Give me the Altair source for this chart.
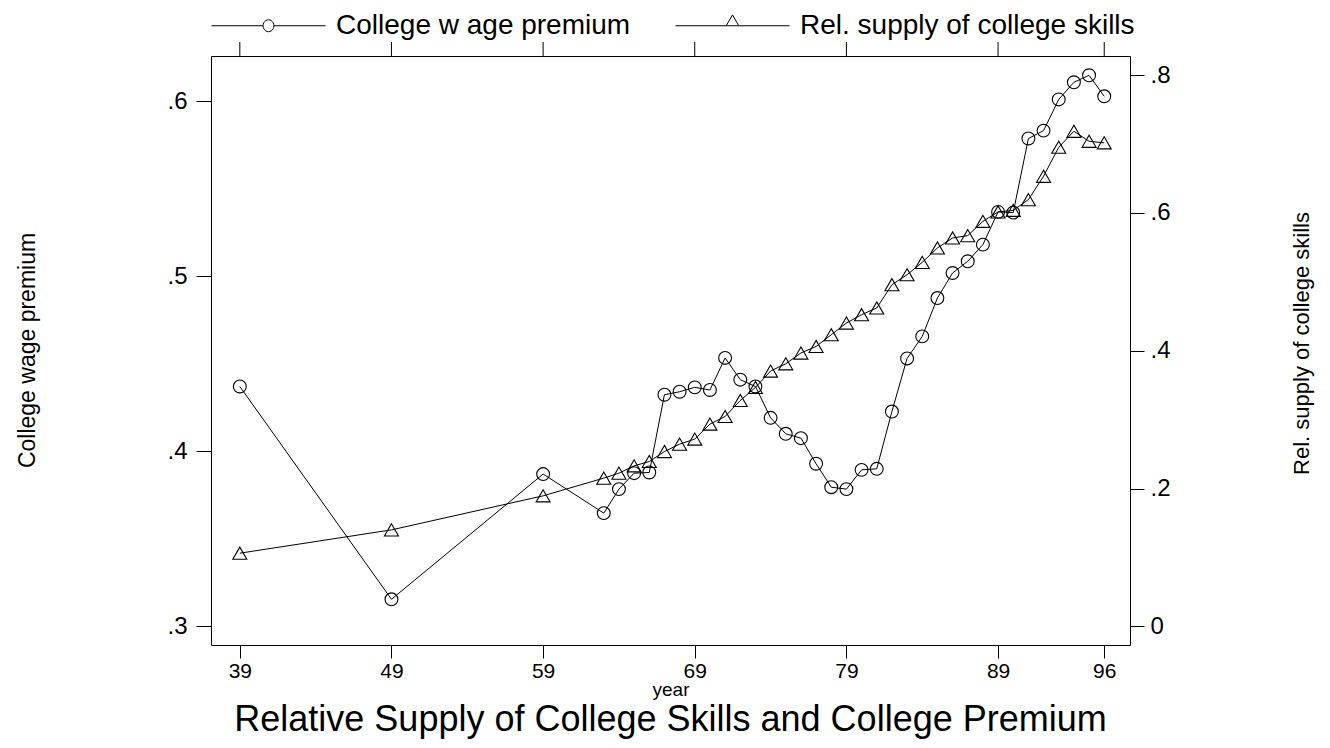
import math
import altair as alt
import pandas as pd

# ---------------- data ----------------
years = [39, 49, 59, 63, 64, 65, 66, 67, 68, 69, 70, 71, 72, 73, 74, 75, 76, 77,
         78, 79, 80, 81, 82, 83, 84, 85, 86, 87, 88, 89, 90, 91, 92, 93, 94, 95, 96]
wage_premium = [0.437, 0.3155, 0.387, 0.3647, 0.3784, 0.3875, 0.3879, 0.4323, 0.434,
                0.4365, 0.435, 0.4533, 0.4409, 0.437, 0.4191, 0.410, 0.4075, 0.3929,
                0.3795, 0.3784, 0.3894, 0.390, 0.4227, 0.453, 0.4656, 0.4875, 0.5018,
                0.5085, 0.518, 0.5367, 0.5363, 0.5786, 0.5831, 0.6009, 0.6107, 0.6147,
                0.6027]
rel_supply = [0.1063, 0.1401, 0.1895, 0.2152, 0.2224, 0.233, 0.2393, 0.2538, 0.2645,
              0.2718, 0.2936, 0.3046, 0.3278, 0.3467, 0.3705, 0.3811, 0.3967, 0.4062,
              0.4232, 0.4402, 0.4523, 0.462, 0.4958, 0.5103, 0.5282, 0.5491, 0.5636,
              0.567, 0.5877, 0.6014, 0.6037, 0.6192, 0.6531, 0.6952, 0.7184, 0.7039,
              0.7016]
x_ticks = [39, 49, 59, 69, 79, 89, 96]
left_ticks = [0.3, 0.4, 0.5, 0.6]
right_ticks = [0, 0.2, 0.4, 0.6, 0.8]
legend_labels = ["College w age premium", "Rel. supply of college skills"]

df = pd.DataFrame({"year": years, "premium": wage_premium, "supply": rel_supply})
ticks_df = pd.DataFrame({"year": x_ticks})
legend_df = pd.DataFrame({"series": legend_labels})

# ---------------- style ----------------
FONT = "Liberation Sans, Arial, Helvetica, sans-serif"
W, H = 919, 589


def ring(r, n=24):
    pts = [(r * math.cos(2 * math.pi * k / n), r * 1.1 * math.sin(2 * math.pi * k / n))
           for k in range(n)]
    return "M" + "L".join(f"{x:.4f},{y:.4f}" for x, y in pts) + "Z"


cr = 0.095
legend_circle = f"M-1,0L{-cr:.4f},0M{cr:.4f},0L1,0" + ring(cr)
tw = 0.11
legend_triangle = (f"M-1,0L{-tw:.4f},0M{tw:.4f},0L1,0"
                   f"M0,-0.19L{tw:.4f},0L{-tw:.4f},0Z")

label_expr = ("datum.value == 0 ? '0' : replace(format(datum.value, '.1f'), '0.', '.')")

xscale = alt.Scale(domain=[37.1, 97.7], nice=False, zero=False)
xaxis = alt.Axis(values=x_ticks, title="year", format="d", grid=False, domain=False,
                 tickSize=13, tickColor="black", labelPadding=2,
                 labelFontSize=21, labelFont=FONT, labelColor="black",
                 titleFontSize=19, titleFont=FONT, titleFontWeight="normal",
                 titleColor="black", titlePadding=-1)

left_scale = alt.Scale(domain=[0.2894, 0.6257], nice=False, zero=False)
left_axis = alt.Axis(values=left_ticks, labelExpr=label_expr, orient="left", grid=False,
                     domain=False, tickSize=15, tickColor="black", labelPadding=9,
                     labelFontSize=24, labelFont=FONT, labelColor="black",
                     title="College wage premium", titleFontSize=23, titleFont=FONT,
                     titleFontWeight="normal", titleColor="black", titleAngle=270,
                     titleBaseline="middle", titleX=-184, titleY=294)

right_scale = alt.Scale(domain=[-0.0269, 0.8276], nice=False, zero=False)
right_axis = alt.Axis(values=right_ticks, labelExpr=label_expr, orient="right",
                      grid=False, domain=False, tickSize=14, tickColor="black",
                      labelPadding=6, labelFontSize=24, labelFont=FONT,
                      labelColor="black", title="Rel. supply of college skills",
                      titleFontSize=22, titleFont=FONT, titleFontWeight="normal",
                      titleColor="black", titleAngle=270, titleBaseline="middle",
                      titleX=171, titleY=287)

base = alt.Chart(df)
X = alt.X("year:Q", scale=xscale, axis=xaxis)

prem = alt.layer(
    base.mark_line(color="black", strokeWidth=1).encode(
        x=X, y=alt.Y("premium:Q", scale=left_scale, axis=left_axis)),
    base.mark_point(shape="circle", filled=False, color="black", size=165,
                    strokeWidth=1.1, opacity=1).encode(
        x=X, y=alt.Y("premium:Q", scale=left_scale, axis=left_axis)),
)

supp = alt.layer(
    base.mark_line(color="black", strokeWidth=1).encode(
        x=X, y=alt.Y("supply:Q", scale=right_scale, axis=right_axis)),
    base.mark_point(shape="triangle-up", filled=False, color="black", size=196,
                    strokeWidth=1.1, opacity=1).encode(
        x=X, y=alt.Y("supply:Q", scale=right_scale, axis=right_axis)),
)

top_ticks = alt.Chart(ticks_df).mark_rule(color="black", strokeWidth=1).encode(
    x=X, y=alt.value(-14), y2=alt.value(0))

legend_layer = alt.Chart(legend_df).mark_point(opacity=0, filled=False).encode(
    shape=alt.Shape(
        "series:N",
        scale=alt.Scale(domain=legend_labels, range=[legend_circle, legend_triangle]),
        legend=alt.Legend(
            title=None, orient="none", direction="horizontal",
            legendX=0, legendY=-31 - 57,
            symbolSize=114 * 114, symbolStrokeColor="black", symbolFillColor="white",
            symbolStrokeWidth=1, symbolOpacity=1, labelFont=FONT, labelFontSize=28,
            labelColor="black", labelOffset=10, columnPadding=42, labelLimit=600,
        ),
    )
)

chart = (
    alt.layer(prem, supp, top_ticks, legend_layer)
    .resolve_scale(y="independent")
    .properties(
        width=W, height=H,
        autosize=alt.AutoSizeParams(type="none"),
        padding={"left": 203, "top": 48, "right": 192, "bottom": 95},
        title=alt.Title("Relative Supply of College Skills and College Premium",
                        orient="bottom", anchor="middle", font=FONT, fontSize=36,
                        fontWeight="normal", color="black", offset=4),
        background="white",
    )
    .configure_view(stroke="black", strokeWidth=1)
)

chart.save("out.html", embed_options={"renderer": "svg", "actions": False})
